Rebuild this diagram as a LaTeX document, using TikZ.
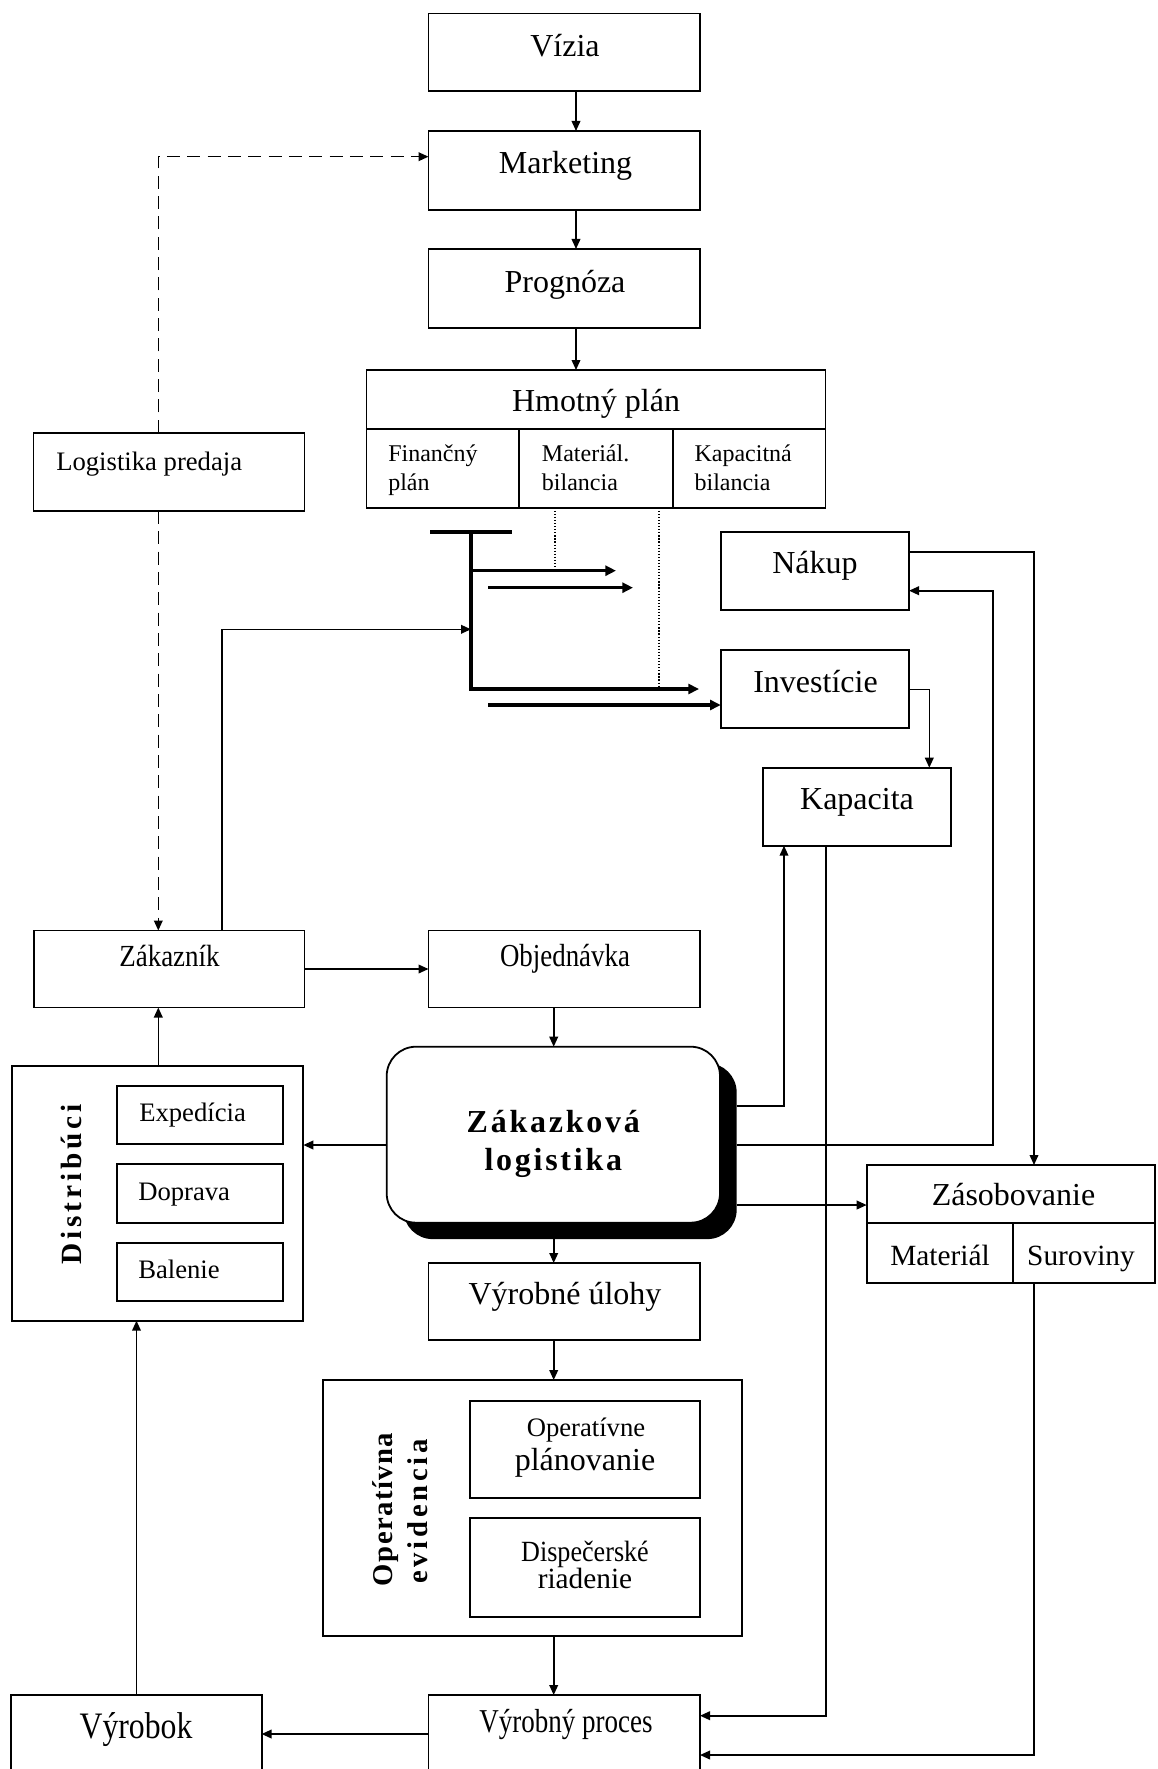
\documentclass[tikz,border=0pt]{standalone}
\usepackage{fontspec}
\setmainfont{Liberation Serif}
\usetikzlibrary{arrows.meta,shadows,calc}
\newcommand\mybox[6][]{\node[box,minimum width={(#4-#2)*0.75pt},minimum height={(#5-#3)*0.75pt},#1] (#6) at ({(#2+#4)/2},{(#3+#5)/2}) {};}
\begin{document}
\begin{tikzpicture}[x=0.75pt,y=-0.75pt,
 box/.style={draw,line width=1.35pt,inner sep=0pt,outer sep=0pt,fill=white},
 con/.style={line width=1.2pt},
 arr/.style={con,-{Triangle[length=7.5pt,width=6.5pt]}},
 dsh/.style={line width=1.2pt,dash pattern=on 9.75pt off 5.5pt,-{Triangle[length=7.5pt,width=6.5pt]}},
 heavy/.style={line width=2.3pt},
 harr/.style={heavy,-{Triangle[length=8pt,width=7.5pt]}},
 dotl/.style={line width=0.9pt,dash pattern=on 0.9pt off 1.4pt},
 L/.style={inner sep=0pt,anchor=base,font=\fontsize{24}{28}\selectfont},
 M/.style={inner sep=0pt,anchor=base,font=\fontsize{20}{24}\selectfont},
 ML/.style={inner sep=0pt,anchor=base west,font=\fontsize{20}{24}\selectfont},
 S/.style={inner sep=0pt,anchor=base west,font=\fontsize{18}{21}\selectfont},
 Z/.style={inner sep=0pt,anchor=base,font=\fontsize{22}{26}\selectfont},
 zlt/.style={inner sep=0pt,anchor=base,font={\fontsize{24}{28}\selectfont\bfseries\addfontfeatures{LetterSpace=8.6}}},
]
\fill[white] (0,0) rectangle (1157,1769);
\useasboundingbox (0,0) rectangle (1157,1769);

% boxes
\mybox{428.5}{13.5}{700}{91}{viz}
\mybox{428.5}{131}{700}{210}{mkt}
\mybox{428.5}{249}{700}{328}{prog}
\mybox{366.5}{370}{825.5}{429}{hmot}
\mybox{366.5}{429}{519.3}{507.7}{fin}
\mybox{519.3}{429}{672.7}{507.7}{mat}
\mybox{672.7}{429}{825.5}{507.7}{kapb}
\mybox{33.5}{432.7}{304.5}{511}{logp}
\mybox{720.7}{531.7}{909}{610}{nak}
\mybox{720.7}{650}{909}{728}{inv}
\mybox{762.7}{767.7}{950.7}{845.7}{kap}
\mybox{34}{930.5}{304.5}{1007.5}{zak}
\mybox{428.5}{930.5}{700}{1007.5}{obj}
\mybox[rounded corners=22pt,drop shadow={shadow xshift=12.5pt,shadow yshift=-12.3pt,opacity=1,fill=black}]{386.7}{1046.7}{720}{1222.7}{zl}
\coordinate (zlr) at ($(zl.east)+(16.7,0)$);
\mybox{11.7}{1066}{303.3}{1320.7}{dist}
\mybox{116.7}{1085.7}{283.3}{1144.3}{exp}
\mybox{116.7}{1164.3}{283.3}{1223.3}{dop}
\mybox{116.7}{1242.7}{283.3}{1300.7}{bal}
\mybox{866.7}{1165}{1155}{1223.3}{zas}
\mybox{866.7}{1223.3}{1013.3}{1283.3}{zmat}
\mybox{1013.3}{1223.3}{1155}{1283.3}{zsur}
\mybox{428.5}{1263}{700}{1340}{vu}
\mybox{323.3}{1380}{741.7}{1635.7}{oe}
\mybox{470}{1400.7}{700}{1498.3}{op}
\mybox{470}{1517.7}{700}{1616.7}{dr}
\mybox{428.5}{1695}{700}{1780}{vp}
\mybox{11.3}{1695}{261.6}{1780}{vyr}

% main vertical chain
\draw[arr] (viz.south -| 576,0) -- (mkt.north -| 576,0);
\draw[arr] (mkt.south -| 576,0) -- (prog.north -| 576,0);
\draw[arr] (prog.south -| 576,0) -- (hmot.north -| 576,0);
\draw[arr] (obj.south -| 553.7,0) -- (zl.north -| 553.7,0);
\draw[arr] (zl.south -| 553.7,0) ++(0,16) -- (vu.north -| 553.7,0);
\draw[arr] (vu.south -| 553.7,0) -- (oe.north -| 553.7,0);
\draw[arr] (oe.south -| 553.7,0) -- (vp.north -| 553.7,0);

% dashed
\draw[dsh] (logp.north -| 158.3,0) |- (mkt.west |- 0,156.7);
\draw[dsh] (logp.south -| 158.3,0) -- (zak.north -| 158.3,0);

% left side
\draw[arr] (zak.east) -- (obj.west);
\coordinate (tT) at (471,532);
\coordinate (tB) at (471,689);
\draw[arr] (zak.north -| 222,0) |- (tT |- 0,629.3);
\draw[arr] (zl.west |- 0,1145) -- (dist.east |- 0,1145);
\draw[arr] (dist.north -| 158.3,0) -- (zak.south -| 158.3,0);
\draw[arr] (vyr.north -| 136.5,0) -- (dist.south -| 136.5,0);
\draw[arr] (vp.west |- 0,1734) -- (vyr.east |- 0,1734);

% T structure
\draw[heavy] (430,532) -- (512,532);
\draw[harr,line join=miter] (tT) -- (tB) -- (699,689);
\draw[harr] (tT |- 0,570.7) -- (616,570.7);
\draw[harr] (488,587.7) -- (633,587.7);
\draw[harr] (488,705) -- (inv.west |- 0,705);
\draw[dotl] (mat.south -| 555,0) -- (555,570.7);
\draw[dotl] (mat.south -| 659,0) -- (659,689);

% right side
\draw[arr] (zlr |- 0,1106) -| (kap.south -| 784,0);
\draw[arr] (zlr |- 0,1145) -| (992.7,590.7) -- (nak.east |- 0,590.7);
\draw[arr] (nak.east |- 0,551.7) -| (zas.north -| 1034,0);
\draw[arr] (inv.east |- 0,689.3) -| (kap.north -| 929.3,0);
\draw[arr] (kap.south -| 826,0) |- (vp.east |- 0,1715.7);
\draw[arr] (zlr |- 0,1205) -- (zas.west |- 0,1205);
\draw[arr] (zsur.south -| 1034,0) |- (vp.east |- 0,1755);

% texts
\node[L] (tviz) at (565,56.5) {Vízia};
\node[L] (tmkt) at (565.5,173.5) {Marketing};
\node[L] (tprog) at (565,292) {Prognóza};
\node[L] (thmot) at (596,411.7) {Hmotný plán};
\node[S] (tfin1) at (388,461.7) {Finančný};
\node[S] (tfin2) at (388,490.7) {plán};
\node[S] (tmat1) at (541.7,461.7) {Materiál.};
\node[S] (tmat2) at (541.7,490.7) {bilancia};
\node[S] (tkb1) at (694.3,461.7) {Kapacitná};
\node[S] (tkb2) at (694.3,490.7) {bilancia};
\node[ML] (tlogp) at (56,470) {Logistika predaja};
\node[L] (tnak) at (815,573.5) {Nákup};
\node[L] (tinv) at (815.5,692) {Investície};
\node[L] (tkap) at (857,809) {Kapacita};
\node[inner sep=0pt,anchor=base,font={\fontsize{23}{26}\selectfont\addfontfeatures{FakeStretch=0.88}}] (tzak) at (169.5,966.5) {Zákazník};
\node[inner sep=0pt,anchor=base,font={\fontsize{24}{26}\selectfont\addfontfeatures{FakeStretch=0.84}}] (tobj) at (565,966.5) {Objednávka};
\node[zlt] (tzl1) at (553.3,1132.7) {Zákazková};
\node[zlt] (tzl2) at (553.3,1170) {logistika};
\node[inner sep=0pt,anchor=base,rotate=90,font={\fontsize{22}{26}\selectfont\bfseries\addfontfeatures{LetterSpace=13}}] (tdist) at (81.7,1184.5) {Distribúci};
\node[ML] (texp) at (139,1121.7) {Expedícia};
\node[ML] (tdop) at (138,1200) {Doprava};
\node[ML] (tbal) at (138,1278.3) {Balenie};
\node[L] (tzas) at (1013.5,1205) {Zásobovanie};
\node[Z] (tzm) at (940,1265) {Materiál};
\node[Z] (tzs) at (1081,1265) {Suroviny};
\node[L] (tvu) at (565,1304) {Výrobné úlohy};
\node[inner sep=0pt,anchor=base,rotate=90,font={\fontsize{21.5}{26}\selectfont\bfseries\addfontfeatures{LetterSpace=5}}] (toe1) at (392,1509.5) {Operatívna};
\node[inner sep=0pt,anchor=base,rotate=90,font={\fontsize{21.5}{26}\selectfont\bfseries\addfontfeatures{LetterSpace=13}}] (toe2) at (427.5,1511.5) {evidencia};
\node[M] (top1) at (586,1436.7) {Operatívne};
\node[L] (top2) at (585,1470) {plánovanie};
\node[inner sep=0pt,anchor=base,font={\fontsize{22}{26}\selectfont\addfontfeatures{FakeStretch=0.89}}] (tdr1) at (585,1561) {Dispečerské};
\node[Z] (tdr2) at (585,1588) {riadenie};
\node[inner sep=0pt,anchor=base,font={\fontsize{25}{28}\selectfont\addfontfeatures{FakeStretch=0.81}}] (tvp) at (566,1732) {Výrobný proces};
\node[inner sep=0pt,anchor=base,font={\fontsize{28}{30}\selectfont\addfontfeatures{FakeStretch=0.85}}] (tvyr) at (136,1738) {Výrobok};
\end{tikzpicture}
\end{document}
